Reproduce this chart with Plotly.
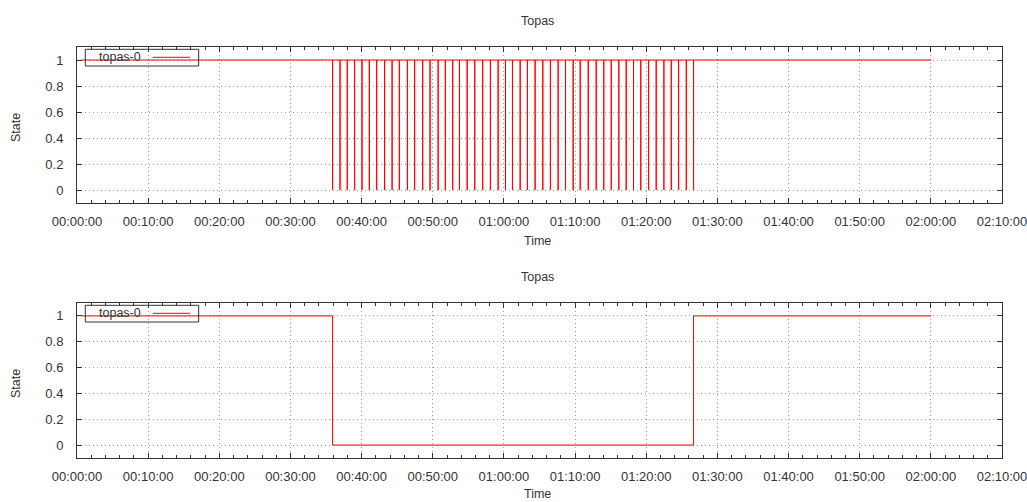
import plotly.graph_objects as go
import datetime as dt

# ---- data (seconds from 00:00:00) ----
series_name = "topas-0"
chart_title = "Topas"
x_title = "Time"
y_title = "State"

start_s = 35
end_s = 7200

# top chart: instantaneous drops from state 1 to 0 and back
drop_times_s = [2155, 2218, 2279, 2341, 2403, 2465, 2527, 2594, 2657, 2718,
                2786, 2847, 2915, 2977, 3045, 3106, 3168, 3225, 3290, 3354,
                3421, 3486, 3551, 3613, 3672, 3737, 3798, 3863, 3928, 3992,
                4057, 4119, 4184, 4243, 4311, 4378, 4442, 4505, 4569, 4631,
                4693, 4754, 4820, 4884, 4949, 5011, 5073, 5138, 5199]

# bottom chart: state step series
state_times_s = [35, 2155, 2155, 5199, 5199, 7200]
state_values = [1, 1, 0, 0, 1, 1]

x_range_s = [0, 7800]

# ---- build traces ----
base = dt.datetime(1970, 1, 1)
def ts(s):
    return base + dt.timedelta(seconds=s)

top_x = [ts(start_s)]
top_y = [1]
for t in drop_times_s:
    top_x += [ts(t), ts(t), ts(t)]
    top_y += [1, 0, 1]
top_x.append(ts(end_s))
top_y.append(1)

W, H = 1027, 502
def px(x):
    return x / W
def py(y):
    return 1 - y / H

FONT = "Liberation Sans, Arial, sans-serif"
TXT = "#333333"
RED = "#ff0000"
GRID = "#a0a0a0"
GRIDDASH = "1px,3px"

fig = go.Figure()
fig.add_trace(go.Scatter(x=top_x, y=top_y, mode="lines", name=series_name,
                         line=dict(color=RED, width=1), xaxis="x", yaxis="y",
                         showlegend=False))
fig.add_trace(go.Scatter(x=[ts(s) for s in state_times_s], y=state_values,
                         mode="lines", name=series_name,
                         line=dict(color=RED, width=1), xaxis="x2", yaxis="y2",
                         showlegend=False))

plot_left, plot_right = 77, 1002
plots = [(47, 203), (303, 458)]

def xaxis_cfg():
    return dict(
        type="date", range=[ts(x_range_s[0]), ts(x_range_s[1])],
        domain=[px(plot_left), px(plot_right)],
        tickformat="%H:%M:%S", dtick=600000, tick0=ts(0),
        showgrid=True, gridcolor=GRID, griddash=GRIDDASH, gridwidth=1,
        showline=True, linecolor="#333333", linewidth=1, mirror="ticks",
        ticks="inside", ticklen=5, tickcolor="#333333",
        minor=dict(dtick=120000, ticks="inside", ticklen=3, tickcolor="#333333",
                   showgrid=False),
        tickfont=dict(family=FONT, size=13, color=TXT),
        ticklabeloverflow="allow",
        ticklabelstandoff=6, zeroline=False, automargin=False, fixedrange=True,
    )

def yaxis_cfg(top, bottom, anchor):
    return dict(
        range=[-0.1, 1.1], domain=[py(bottom), py(top)], anchor=anchor,
        dtick=0.2, tick0=0,
        showgrid=True, gridcolor=GRID, griddash=GRIDDASH, gridwidth=1,
        showline=True, linecolor="#333333", linewidth=1, mirror="ticks",
        ticks="inside", ticklen=5, tickcolor="#333333",
        tickfont=dict(family=FONT, size=13, color=TXT),
        ticklabelstandoff=10, zeroline=False, automargin=False, fixedrange=True,
    )

xa1 = xaxis_cfg(); xa1["anchor"] = "y"
xa2 = xaxis_cfg(); xa2["anchor"] = "y2"

annotations = []
shapes = []
for i, (top, bottom) in enumerate(plots):
    off = top - 47
    annotations.append(dict(text=chart_title, x=px(537), y=py(21 + off), xref="paper", yref="paper",
                            showarrow=False, xanchor="center", yanchor="middle",
                            font=dict(family=FONT, size=12.5, color=TXT)))
    annotations.append(dict(text=x_title, x=px(537), y=py(min(241 + off, 494)), xref="paper", yref="paper",
                            showarrow=False, xanchor="center", yanchor="middle",
                            font=dict(family=FONT, size=12.5, color=TXT)))
    annotations.append(dict(text=y_title, x=px(16), y=py(128 + off), xref="paper", yref="paper",
                            showarrow=False, xanchor="center", yanchor="middle", textangle=-90,
                            font=dict(family=FONT, size=12.5, color=TXT)))
    # legend (gnuplot style: text then line sample)
    shapes.append(dict(type="rect", xref="paper", yref="paper",
                       x0=px(85.3), x1=px(198.7), y0=py(66 + off), y1=py(49.3 + off),
                       line=dict(color="#333333", width=1), fillcolor="rgba(0,0,0,0)"))
    shapes.append(dict(type="line", xref="paper", yref="paper",
                       x0=px(153), x1=px(190), y0=py(57.3 + off), y1=py(57.3 + off),
                       line=dict(color=RED, width=1)))
    annotations.append(dict(text=series_name, x=px(96.5), y=py(57.3 + off), xref="paper", yref="paper",
                            showarrow=False, xanchor="left", yanchor="middle",
                            font=dict(family=FONT, size=12.5, color=TXT)))

fig.update_layout(
    width=W, height=H,
    margin=dict(l=0, r=0, t=0, b=0),
    paper_bgcolor="white", plot_bgcolor="white",
    xaxis=xa1, xaxis2=xa2,
    yaxis=yaxis_cfg(*plots[0], "x"),
    yaxis2=yaxis_cfg(*plots[1], "x2"),
    annotations=annotations, shapes=shapes,
    showlegend=False,
)

fig.write_html("out.html", config={"displayModeBar": False},
               post_script="document.body.style.margin='0';document.body.style.padding='0';")
